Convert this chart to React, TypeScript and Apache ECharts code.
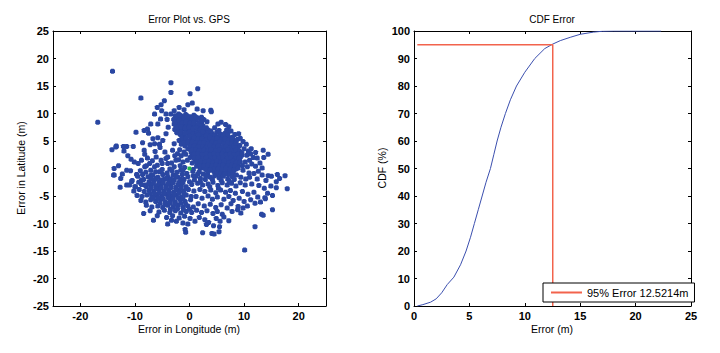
import React, { useEffect, useRef } from "react";
import * as echarts from "echarts";

// ---- Data ----
const LEFT_X_TICKS = [-20, -10, 0, 10, 20];

const OUTLIER_POINTS: number[][] = [
  [-14.1, 17.7], [-16.8, 8.4], [-3.4, 15.6], [-3.4, 13.8], [-8.9, 12.8], [0.1, 13.6], [1.5, 14.5],
  [10.1, -14.8], [12.0, -10.6], [15.2, -7.5], [17.9, -3.7], [17.5, -1.3], [-9.8, 6.6], [-14.2, 3.4],
  [-13.4, 4.1], [-13.9, -1.2], [-13.0, 0.5], [-12.7, -3.4], [-8.4, -8.2], [-6.6, -9.4], [-4.0, -10.1],
  [-0.8, -11.1], [-0.7, -11.6], [2.4, -11.7], [4.1, -11.8], [4.5, -11.9], [5.4, -11.5], [5.5, -10.6],
  [7.2, -9.5], [8.8, -7.5], [13.2, -8.3], [13.5, -8.5], [13.9, -5.5], [15.9, -3.5], [16.1, -1.1],
  [15.9, -2.4], [14.4, -1.3], [13.5, 3.3], [14.4, 2.6],
];

const NW_POINTS: number[][] = [
  [-12.1, 4.0], [-13.5, 3.9], [-12.0, 3.2], [-11.5, 4.0], [-10.3, 4.0], [-11.3, 2.3], [-10.7, 1.7],
  [-10.1, 1.2], [-13.8, 0.0], [-13.8, -1.2], [-12.3, -1.0], [-12.6, -1.8], [-11.5, -0.3], [-10.8, -0.4],
  [-9.7, -1.1], [-9.4, 0.9], [-8.3, 3.3], [-8.2, 2.6], [-7.7, 1.9], [-7.3, 0.9], [-8.2, 0.3], [-7.5, 6.4],
  [-7.7, 7.2], [-7.1, 8.1], [-6.4, 9.9], [-5.9, 11.1], [-5.2, 11.6], [-4.6, 12.3], [-5.1, 10.5],
  [-4.3, 9.9], [-4.1, 8.9], [-3.4, 9.9], [-2.8, 10.5], [-1.9, 11.1], [-1.0, 10.7], [-0.3, 11.6],
  [0.5, 11.9], [1.4, 10.8], [2.5, 10.5], [3.9, 10.6], [-6.7, 5.4], [-5.8, 5.6], [-6.4, 4.5], [-5.4, 3.8],
  [-4.9, 5.1], [-4.3, 6.3], [-3.9, 7.5], [-2.8, 8.1], [-4.5, 3.0], [-4.0, 2.1], [-5.2, 1.5], [-6.1, 2.1],
  [-6.4, 0.3], [-5.5, -0.6], [-7.0, -1.2], [-8.8, -2.1], [-10.6, -2.4], [-11.5, -3.0], [-10.0, -3.3],
  [-8.2, -3.0], [-2.3, 6.6], [-1.9, 5.1], [-2.8, 4.5], [-3.1, 3.3], [-2.2, 2.7], [-2.5, 1.5], [-4.0, 0.9],
  [-2.8, 0.3], [-1.6, -0.3], [-8.8, 1.5], [-7.9, 0.5], [-6.8, 1.4], [-5.9, 0.6], [-5.0, 0.9], [-4.3, 1.8],
  [-6.3, 3.1], [-7.2, 4.3], [-8.6, 4.7], [-5.5, 4.4], [-8.3, 6.9], [-5.8, 8.1], [-5.3, 9.0],
];

const BAND_POINTS: number[][] = [
  [-2.6, 9.6], [-2.0, 9.9], [-1.4, 9.5], [-0.7, 9.8], [0.1, 9.4], [0.8, 9.7], [1.5, 9.2],
  [-2.9, 8.9], [-2.2, 8.6], [-1.6, 9.0], [-0.9, 8.7], [-0.2, 8.9], [0.5, 8.5], [1.2, 8.8], [1.9, 8.4], [2.6, 8.9],
  [-2.5, 7.9], [-1.8, 8.1], [-1.1, 7.7], [-0.4, 8.0], [0.3, 7.6], [1.0, 7.9], [1.7, 7.5], [2.4, 7.8], [3.1, 7.4],
  [-2.7, 7.1], [-2.0, 6.9], [-1.3, 7.2], [-0.6, 6.8], [0.1, 7.0], [0.8, 6.6], [1.5, 6.9], [2.2, 6.5], [2.9, 6.8], [3.6, 6.5],
  [-1.7, 6.2], [-1.0, 5.9], [-0.3, 6.3], [0.4, 5.8], [1.1, 6.1], [1.8, 5.7], [2.5, 6.0],
  [-1.2, 5.2], [-0.5, 5.0], [0.2, 5.4], [0.9, 4.9], [-1.5, 4.4], [-0.8, 4.1], [-0.1, 4.5],
  [-1.8, 3.4], [-1.0, 3.0], [-0.3, 3.6], [0.4, 3.2], [-1.5, 2.3], [-0.7, 2.6], [0.1, 2.0], [0.9, 2.4],
  [-2.0, 1.6], [-1.2, 1.2], [-0.4, 1.5], [0.5, 1.0], [1.3, 0.4], [-1.7, 0.5], [-0.9, 0.2], [0.7, -0.2],
  [2.0, 0.1], [-2.7, 2.3], [-3.3, 1.0], [-3.6, -0.1],
  [-2.3, 9.3], [-1.7, 9.7], [-1.0, 9.2], [-0.4, 9.5], [0.4, 9.1], [1.1, 9.4],
  [-2.6, 8.4], [-1.9, 8.8], [-1.3, 8.3], [-0.6, 8.5], [0.1, 8.2], [0.8, 8.3], [1.6, 8.1], [2.2, 8.6],
  [-2.2, 7.5], [-1.5, 7.6], [-0.8, 7.3], [-0.1, 7.5], [0.6, 7.2], [1.3, 7.4], [2.0, 7.1], [2.7, 7.3], [3.4, 7.0],
  [-2.3, 6.5], [-1.5, 6.6], [-0.8, 6.4], [0.0, 6.6], [0.7, 6.3], [1.4, 6.4], [2.1, 6.2],
  [-1.4, 5.6], [-0.7, 5.5], [0.0, 5.9], [0.6, 5.3], [-1.0, 4.7], [-0.3, 4.8], [0.5, 4.5],
];

const CORE_POINTS: number[][] = [
  [2.0, 6.4], [2.8, 6.2], [3.5, 6.5], [4.2, 6.3], [5.0, 6.6], [5.8, 6.2], [6.5, 6.4],
  [1.2, 5.9], [1.9, 5.6], [2.6, 5.8], [3.3, 5.5], [4.0, 5.9], [4.7, 5.6], [5.4, 5.8], [6.1, 5.5], [6.8, 5.9], [7.5, 5.6],
  [0.8, 5.2], [1.5, 4.9], [2.2, 5.1], [2.9, 4.8], [3.7, 5.2], [4.4, 4.9], [5.1, 5.1], [5.8, 4.8], [6.6, 5.0], [7.3, 4.7], [8.0, 5.1],
  [0.4, 4.3], [1.1, 4.5], [1.8, 4.2], [2.5, 4.4], [3.2, 4.1], [4.0, 4.5], [4.7, 4.2], [5.4, 4.4], [6.2, 4.1], [6.9, 4.3], [7.6, 4.0], [8.3, 4.4],
  [0.0, 3.6], [0.7, 3.8], [1.4, 3.5], [2.1, 3.7], [2.9, 3.4], [3.6, 3.8], [4.3, 3.5], [5.0, 3.7], [5.7, 3.4], [6.5, 3.6], [7.2, 3.3], [7.9, 3.7], [8.6, 3.5],
  [0.3, 2.9], [1.0, 3.1], [1.8, 2.8], [2.5, 3.0], [3.2, 2.7], [3.9, 3.1], [4.7, 2.8], [5.4, 3.0], [6.1, 2.7], [6.8, 3.1], [7.5, 2.8], [8.3, 3.0], [9.0, 2.7],
  [0.6, 2.2], [1.4, 2.4], [2.1, 2.1], [2.8, 2.3], [3.6, 2.0], [4.3, 2.4], [5.0, 2.1], [5.7, 2.3], [6.4, 2.0], [7.2, 2.4], [7.9, 2.1], [8.6, 2.3], [9.3, 2.0],
  [1.0, 1.5], [1.7, 1.7], [2.5, 1.4], [3.2, 1.6], [3.9, 1.3], [4.6, 1.7], [5.3, 1.4], [6.1, 1.6], [6.8, 1.3], [7.5, 1.7], [8.2, 1.4], [8.9, 1.6],
  [1.5, 0.8], [2.2, 1.0], [3.0, 0.7], [3.7, 0.9], [4.4, 0.6], [5.2, 1.0], [5.9, 0.7], [6.6, 0.9], [7.3, 0.6], [8.1, 1.0], [8.8, 0.7],
  [2.6, 0.1], [3.4, 0.3], [4.1, 0.0], [4.9, 0.2], [5.6, -0.1], [6.3, 0.3], [7.0, 0.0], [7.8, 0.2], [8.5, -0.1],
  [4.5, -0.6], [5.3, -0.4], [6.0, -0.7], [6.8, -0.5], [7.5, -0.8],
  [1.6, 6.1], [2.4, 6.7], [3.1, 6.0], [3.9, 6.8], [4.6, 6.0], [5.4, 6.9], [6.2, 6.0], [7.0, 6.2],
  [0.9, 5.5], [1.6, 5.3], [2.3, 5.4], [3.0, 5.2], [3.7, 5.6], [4.4, 5.3], [5.1, 5.5], [5.8, 5.2], [6.5, 5.4], [7.2, 5.2], [7.8, 5.4],
  [0.5, 4.8], [1.2, 4.7], [1.9, 4.6], [2.6, 4.7], [3.4, 4.5], [4.1, 4.8], [4.8, 4.6], [5.5, 4.8], [6.3, 4.5], [7.0, 4.7], [7.7, 4.5], [8.5, 4.8],
  [0.2, 4.0], [0.9, 4.1], [1.6, 3.9], [2.4, 4.0], [3.1, 3.8], [3.8, 4.2], [4.5, 3.9], [5.3, 4.1], [6.0, 3.8], [6.7, 4.0], [7.4, 3.7], [8.1, 4.1], [8.9, 3.9],
  [0.4, 3.3], [1.1, 3.4], [1.8, 3.2], [2.6, 3.3], [3.3, 3.1], [4.0, 3.4], [4.8, 3.2], [5.5, 3.4], [6.2, 3.1], [7.0, 3.4], [7.7, 3.1], [8.5, 3.3], [9.2, 3.1],
  [0.8, 2.6], [1.5, 2.7], [2.3, 2.5], [3.0, 2.6], [3.8, 2.4], [4.5, 2.7], [5.2, 2.5], [6.0, 2.6], [6.7, 2.4], [7.4, 2.6], [8.1, 2.5], [8.9, 2.6], [9.6, 2.4],
  [0.9, 1.9], [1.6, 2.0], [2.4, 1.8], [3.1, 2.0], [3.9, 1.7], [4.6, 2.0], [5.4, 1.8], [6.1, 2.0], [6.9, 1.8], [7.6, 2.0], [8.4, 1.8], [9.1, 1.9],
  [1.3, 1.2], [2.0, 1.3], [2.8, 1.1], [3.5, 1.3], [4.3, 1.0], [5.0, 1.3], [5.7, 1.1], [6.4, 1.3], [7.2, 1.0], [7.9, 1.3], [8.6, 1.1], [9.3, 1.2],
  [1.9, 0.5], [2.7, 0.5], [3.4, 0.6], [4.1, 0.4], [4.8, 0.6], [5.5, 0.4], [6.2, 0.6], [7.0, 0.4], [7.7, 0.6], [8.4, 0.4],
  [3.0, -0.2], [3.8, -0.3], [4.6, -0.1], [5.3, 0.0], [6.0, -0.2], [6.7, 0.1], [7.4, -0.2], [8.1, -0.3], [8.9, 0.1],
  [5.0, -0.9], [5.7, -1.0], [6.4, -0.9], [7.1, -1.1], [8.0, -0.8],
];

const NE_POINTS: number[][] = [
  [7.2, 7.6], [6.6, 8.0], [5.8, 8.4], [5.2, 8.1], [4.6, 7.4], [6.8, 7.0], [7.6, 6.8], [8.3, 6.2], [7.9, 5.7],
  [8.8, 5.3], [9.3, 5.5], [9.8, 4.9], [10.4, 4.4], [9.2, 4.2], [10.0, 3.6], [10.8, 3.2], [9.6, 2.8], [10.5, 2.4],
  [11.2, 2.7], [11.7, 2.0], [12.4, 1.9], [11.0, 1.5], [10.2, 1.2], [9.7, 0.5], [10.6, 0.3], [11.4, 0.8],
  [12.1, 0.4], [12.9, 1.0], [13.3, 0.1], [12.6, -0.5], [11.8, -0.9], [13.6, 2.0], [12.1, 2.9], [11.3, 3.6],
  [9.0, 6.3], [8.5, 4.6], [9.8, -0.3], [10.9, -0.8], [3.2, 8.5], [4.0, 10.3], [2.2, 9.3],
];

const SE_POINTS: number[][] = [
  [1.8, -0.6], [2.5, -1.0], [3.3, -0.9], [1.2, -1.4], [2.0, -1.8], [2.9, -2.0], [3.8, -1.6], [4.6, -1.3],
  [5.4, -1.7], [6.2, -1.4], [7.0, -1.9], [7.8, -1.5], [8.6, -1.2], [9.4, -1.6], [10.3, -1.9], [11.0, -1.6],
  [12.4, -1.9], [13.3, -1.2], [14.0, -2.2], [15.0, -1.4], [16.5, -1.8],
  [1.5, -2.7], [2.4, -3.0], [3.4, -2.8], [4.3, -2.5], [5.2, -3.1], [6.0, -2.6], [6.9, -3.0], [7.7, -2.7],
  [8.5, -3.2], [9.3, -2.6], [10.2, -3.0], [11.4, -2.8], [12.7, -3.1], [13.7, -3.6], [14.9, -3.2],
  [1.9, -3.8], [2.8, -4.2], [3.9, -3.9], [4.8, -4.4], [5.7, -3.9], [6.6, -4.3], [7.5, -4.0], [8.4, -4.5],
  [9.7, -4.2], [10.7, -4.7], [11.8, -4.3], [12.5, -5.2], [14.3, -4.5], [15.2, -4.9],
  [1.2, -5.1], [2.3, -5.4], [3.4, -5.0], [4.2, -5.6], [5.1, -5.2], [6.3, -5.6], [7.2, -5.1], [8.0, -5.8],
  [9.1, -5.4], [10.0, -6.0], [11.2, -5.7], [12.0, -6.3], [13.0, -6.1], [13.8, -5.3],
  [1.6, -6.4], [2.7, -6.8], [3.8, -6.5], [4.8, -7.1], [5.8, -6.6], [6.9, -7.2], [7.6, -6.4], [8.9, -6.9],
  [9.8, -7.2], [10.6, -6.8], [1.3, -7.6], [2.2, -8.0], [3.2, -7.7], [4.3, -8.2], [5.1, -7.8], [6.0, -8.3],
  [7.8, -7.8], [9.4, -8.1], [1.8, -8.9], [2.8, -9.3], [3.5, -9.8], [4.9, -9.1], [5.6, -9.6], [6.3, -8.8],
  [1.0, -9.6], [3.1, -10.2], [4.4, -10.4],
  [1.5, -1.0], [3.0, -1.4], [4.2, -2.0], [5.8, -2.2], [6.5, -1.0], [3.7, -3.3], [5.3, -3.6], [2.0, -2.4],
  [7.3, -2.3], [8.2, -2.0],
];

const SW_POINTS: number[][] = [
  [-9.0, -0.4], [-8.0, -0.7], [-7.1, -0.3], [-6.2, -0.6], [-5.0, -0.2], [-4.1, -0.8], [-3.2, -0.4], [-2.3, -0.7], [-1.2, -0.3], [-0.5, -0.9], [0.6, -0.5],
  [-9.5, -1.4], [-8.6, -1.1], [-7.6, -1.5], [-6.7, -1.2], [-5.8, -1.6], [-4.9, -1.1], [-4.0, -1.5], [-3.0, -1.2], [-2.1, -1.6], [-1.3, -1.1], [-0.3, -1.5], [0.7, -1.3],
  [-10.5, -2.2], [-9.3, -2.5], [-8.4, -2.0], [-7.4, -2.4], [-6.5, -2.1], [-5.6, -2.5], [-4.7, -2.0], [-3.8, -2.3], [-2.8, -2.1], [-1.9, -2.5], [-1.0, -2.0], [0.0, -2.4], [0.9, -2.1],
  [-11.0, -3.0], [-9.9, -3.3], [-8.8, -2.9], [-7.9, -3.3], [-7.0, -3.0], [-6.1, -3.3], [-5.2, -2.9], [-4.3, -3.2], [-3.4, -3.0], [-2.5, -3.4], [-1.5, -3.0], [-0.6, -3.3], [0.4, -2.9],
  [-10.2, -4.1], [-9.2, -3.8], [-8.3, -4.2], [-7.4, -3.9], [-6.5, -4.2], [-5.6, -3.8], [-4.7, -4.1], [-3.8, -3.9], [-2.9, -4.3], [-2.0, -3.9], [-1.1, -4.2], [-0.2, -3.8], [0.8, -4.1],
  [-9.6, -4.9], [-8.7, -5.1], [-7.8, -4.8], [-6.9, -5.2], [-6.0, -4.8], [-5.1, -5.1], [-4.2, -4.7], [-3.3, -5.1], [-2.4, -4.8], [-1.5, -5.2], [-0.6, -4.8], [0.3, -5.1],
  [-8.9, -5.8], [-8.0, -6.1], [-7.1, -5.7], [-6.2, -6.0], [-5.3, -5.7], [-4.4, -6.1], [-3.5, -5.8], [-2.6, -6.1], [-1.7, -5.7], [-0.8, -6.0], [0.2, -5.7],
  [-7.9, -6.7], [-6.9, -7.0], [-5.8, -6.8], [-4.9, -7.1], [-4.0, -6.7], [-3.0, -7.0], [-2.1, -6.7], [-1.2, -7.1], [-0.3, -6.8], [0.7, -7.0],
  [-7.2, -7.7], [-5.6, -7.9], [-4.6, -7.6], [-3.6, -8.0], [-2.6, -7.7], [-1.6, -8.1], [-0.6, -7.8], [0.4, -8.0],
  [-5.9, -8.6], [-4.2, -8.9], [-3.1, -8.6], [-1.9, -9.0], [-0.9, -8.7], [0.1, -9.1], [-2.4, -9.6], [-1.2, -9.9], [-0.3, -10.1], [-3.3, -9.4],
  [-7.0, -1.9], [-6.1, -1.8], [-5.2, -2.1], [-4.3, -1.8], [-3.4, -1.9], [-2.5, -1.4], [-1.6, -1.9],
  [-7.5, -2.8], [-6.6, -2.7], [-5.7, -3.0], [-4.8, -2.6], [-3.9, -2.8], [-3.0, -2.6], [-2.1, -2.9], [-1.2, -2.6],
  [-7.0, -3.6], [-6.1, -3.7], [-5.2, -3.5], [-4.3, -3.6], [-3.4, -3.5], [-2.5, -3.8], [-1.6, -3.5], [-0.7, -3.7],
  [-7.3, -4.5], [-6.4, -4.6], [-5.5, -4.4], [-4.6, -4.6], [-3.7, -4.4], [-2.8, -4.6], [-1.9, -4.4], [-1.0, -4.6],
  [-6.6, -5.4], [-5.7, -5.3], [-4.8, -5.5], [-3.9, -5.3], [-3.0, -5.5], [-2.1, -5.3], [-1.2, -5.5],
  [-5.4, -6.3], [-4.5, -6.5], [-3.5, -6.3], [-2.6, -6.5], [-1.6, -6.3], [-0.7, -6.5],
  [-3.5, -7.4], [-2.2, -7.3], [-1.1, -7.5], [0.0, -7.4],
];

const ORIGIN_POINT: number[][] = [[0, 0]];

const CDF_X = [0.3, 0.8, 1.5, 2.0, 2.5, 3.0, 3.6, 4.2, 4.7, 5.1, 5.45, 5.8, 6.15, 6.5, 6.9, 7.2, 7.5, 7.85, 8.25, 8.7, 9.25, 10.0, 10.9, 11.8, 12.5, 13.2, 14.1, 15.0, 16.2, 17.0, 18.0, 22.3];
const CDF_Y = [0, 0.5, 1.4, 2.6, 4.8, 7.8, 10.5, 15, 20, 25, 30, 35, 40, 45, 50, 55, 60, 65, 70, 75, 80, 85, 90, 93.6, 95.2, 96.5, 97.7, 98.8, 99.6, 99.9, 100, 100];

const ERR95 = 12.5214;
const ERR95_LINE_X = [0.3, ERR95, ERR95];
const ERR95_LINE_Y = [95, 95, 0];
const ERR95_NAME = "95% Error 12.5214m";

const FONT = "Arial, 'Liberation Sans', Helvetica, sans-serif";
const MARK = "path://M1,0H3L4,1V3L3,4H1L0,3V1Z";

export default function App() {
  const ref = useRef<HTMLDivElement>(null);
  useEffect(() => {
    if (!ref.current) return;
    const chart = echarts.init(ref.current, undefined, { renderer: "svg" });
    const scatterData = [
      ...OUTLIER_POINTS, ...NW_POINTS, ...BAND_POINTS, ...CORE_POINTS,
      ...NE_POINTS, ...SE_POINTS, ...SW_POINTS,
    ];
    const axisLine = { show: true, onZero: false, lineStyle: { color: "#000", width: 1 } };
    const tick = (custom?: number[]) => ({
      show: true, inside: true, length: 3, lineStyle: { color: "#000" },
      ...(custom ? { customValues: custom } : {}),
    });
    const label = (custom?: number[]) => ({
      show: true, color: "#000", fontFamily: FONT, fontSize: 11, fontWeight: "bold" as const, margin: 4,
      ...(custom ? { customValues: custom } : {}),
    });
    const hidden = { show: false };
    const txt = (text: string, x: number, y: number, rot = 0, size = 10.5) => ({
      type: "text", x, y, rotation: rot,
      style: { text, fill: "#000", font: `${size}px ${FONT}`, textAlign: "center", textVerticalAlign: "middle" },
    });

    chart.setOption({
      animation: false,
      backgroundColor: "#fff",
      grid: [
        { left: 53, top: 31, width: 273, height: 275 },
        { left: 414, top: 31, width: 277, height: 275 },
      ],
      xAxis: [
        { gridIndex: 0, type: "value", min: -25, max: 25, position: "bottom", axisLine, axisTick: tick(LEFT_X_TICKS), axisLabel: label(LEFT_X_TICKS), splitLine: hidden },
        { gridIndex: 0, type: "value", min: -25, max: 25, position: "top", axisLine, axisTick: tick(LEFT_X_TICKS), axisLabel: hidden, splitLine: hidden },
        { gridIndex: 1, type: "value", min: 0, max: 25, interval: 5, position: "bottom", axisLine, axisTick: tick(), axisLabel: label(), splitLine: hidden },
        { gridIndex: 1, type: "value", min: 0, max: 25, interval: 5, position: "top", axisLine, axisTick: tick(), axisLabel: hidden, splitLine: hidden },
      ],
      yAxis: [
        { gridIndex: 0, type: "value", min: -25, max: 25, interval: 5, position: "left", axisLine, axisTick: tick(), axisLabel: label(), splitLine: hidden },
        { gridIndex: 0, type: "value", min: -25, max: 25, interval: 5, position: "right", axisLine, axisTick: tick(), axisLabel: hidden, splitLine: hidden },
        { gridIndex: 1, type: "value", min: 0, max: 100, interval: 10, position: "left", axisLine, axisTick: tick(), axisLabel: label(), splitLine: hidden },
        { gridIndex: 1, type: "value", min: 0, max: 100, interval: 10, position: "right", axisLine, axisTick: tick(), axisLabel: hidden, splitLine: hidden },
      ],
      legend: {
        data: [ERR95_NAME],
        left: 543, top: 283,
        icon: "rect",
        itemWidth: 31, itemHeight: 2,
        padding: [4, 6, 4, 8],
        borderColor: "#000", borderWidth: 1, borderRadius: 0,
        backgroundColor: "#fff",
        textStyle: { fontFamily: FONT, fontSize: 11, color: "#000" },
      },
      series: [
        {
          type: "scatter", xAxisIndex: 0, yAxisIndex: 0, data: scatterData,
          symbol: MARK, symbolSize: 5, itemStyle: { color: "#2a47a2", opacity: 1 }, silent: true,
        },
        {
          type: "scatter", xAxisIndex: 0, yAxisIndex: 0, data: ORIGIN_POINT,
          symbol: MARK, symbolSize: 4, itemStyle: { color: "#22b24a", opacity: 1 }, silent: true, z: 3,
        },
        {
          type: "line", xAxisIndex: 2, yAxisIndex: 2,
          data: CDF_X.map((x, i) => [x, CDF_Y[i]]),
          symbol: "none", lineStyle: { color: "#3b4fae", width: 1 }, itemStyle: { color: "#3b4fae" },
        },
        {
          type: "line", name: ERR95_NAME, xAxisIndex: 2, yAxisIndex: 2,
          data: ERR95_LINE_X.map((x, i) => [x, ERR95_LINE_Y[i]]),
          symbol: "none", lineStyle: { color: "#f2634c", width: 1.5 }, itemStyle: { color: "#f2634c" },
        },
      ],
      graphic: [
        txt("Error Plot vs. GPS", 189, 19, 0, 10),
        txt("CDF Error", 552, 19, 0, 10),
        txt("Error in Longitude (m)", 189, 329),
        txt("Error (m)", 552, 329),
        txt("Error in Latitude (m)", 21, 168, Math.PI / 2),
        txt("CDF (%)", 382, 168, Math.PI / 2),
      ],
    });
    return () => chart.dispose();
  }, []);
  return (
    <div
      ref={ref}
      style={{ position: "fixed", left: 0, top: 0, width: 720, height: 353, background: "#fff" }}
    />
  );
}
